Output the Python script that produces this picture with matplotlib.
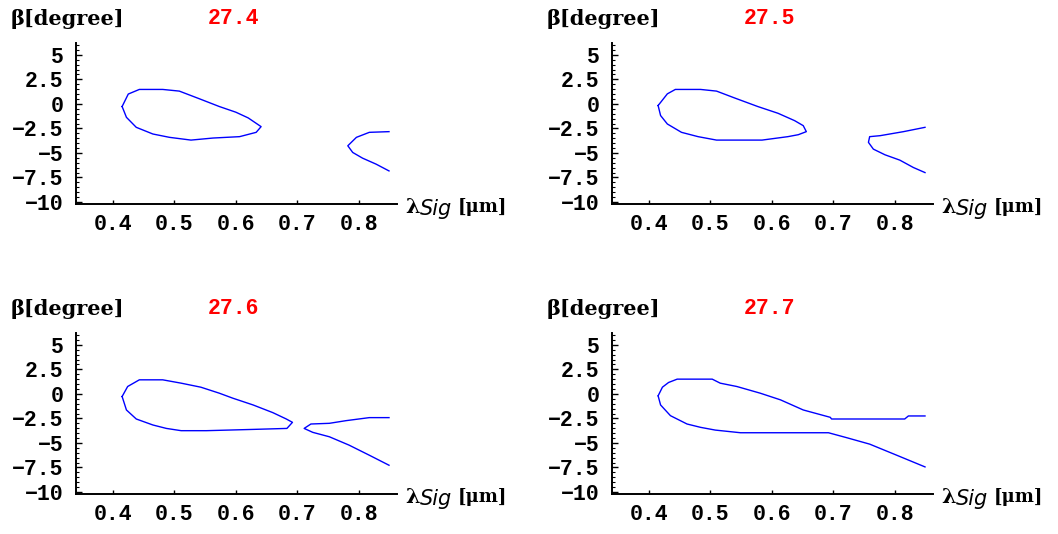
import matplotlib
matplotlib.use("Agg")
import matplotlib.pyplot as plt
import matplotlib.transforms as mtransforms
from matplotlib.ticker import MultipleLocator

# phase-matching curves, beta [deg] vs signal wavelength [um]
titles = ["27.4", "27.5", "27.6", "27.7"]

# 27.4 : closed loop + separate branch
loop1_x = [0.415, 0.422, 0.438, 0.465, 0.492, 0.527, 0.563, 0.606, 0.633, 0.641,
           0.620, 0.600, 0.573, 0.541, 0.508, 0.481, 0.443, 0.425, 0.415]
loop1_y = [-0.27, -1.37, -2.39, -3.07, -3.41, -3.69, -3.48, -3.34, -2.90, -2.32,
           -1.43, -0.85, -0.27, 0.51, 1.30, 1.47, 1.47, 1.00, -0.27]
branch1_x = [0.849, 0.817, 0.796, 0.782, 0.790, 0.806, 0.828, 0.849]
branch1_y = [-2.83, -2.90, -3.41, -4.27, -4.95, -5.53, -6.14, -6.83]

# 27.5
loop2_x = [0.415, 0.419, 0.430, 0.453, 0.480, 0.510, 0.584, 0.626, 0.643, 0.656,
           0.651, 0.637, 0.610, 0.577, 0.539, 0.510, 0.484, 0.443, 0.430, 0.415]
loop2_y = [-0.17, -1.19, -2.05, -2.90, -3.34, -3.69, -3.69, -3.34, -3.14, -2.83,
           -2.22, -1.71, -0.96, -0.27, 0.61, 1.30, 1.47, 1.47, 1.02, -0.17]
branch2_x = [0.849, 0.814, 0.776, 0.759, 0.757, 0.765, 0.784, 0.808, 0.830, 0.849]
branch2_y = [-2.39, -2.83, -3.24, -3.34, -3.92, -4.61, -5.19, -5.73, -6.48, -7.00]

# 27.6
loop3_x = [0.415, 0.422, 0.438, 0.465, 0.487, 0.511, 0.552, 0.628, 0.683, 0.692,
           0.682, 0.660, 0.628, 0.595, 0.573, 0.543, 0.511, 0.481, 0.443, 0.424, 0.415]
loop3_y = [-0.27, -1.64, -2.56, -3.17, -3.52, -3.75, -3.75, -3.62, -3.52, -2.90,
           -2.56, -1.91, -1.13, -0.44, 0.07, 0.68, 1.09, 1.43, 1.43, 0.75, -0.27]
branch3_x = [0.849, 0.817, 0.779, 0.752, 0.722, 0.711, 0.725, 0.752, 0.784, 0.817, 0.849]
branch3_y = [-2.42, -2.42, -2.73, -3.00, -3.07, -3.52, -3.92, -4.37, -5.22, -6.25, -7.27]

# 27.7 : loop opened into two curves
upper4_x = [0.415, 0.422, 0.432, 0.446, 0.503, 0.516, 0.543, 0.581, 0.614, 0.651,
            0.695, 0.697, 0.816, 0.822, 0.849]
upper4_y = [-0.20, 0.68, 1.16, 1.50, 1.50, 1.09, 0.75, 0.07, -0.61, -1.64,
            -2.39, -2.56, -2.56, -2.25, -2.25]
lower4_x = [0.415, 0.419, 0.435, 0.462, 0.484, 0.508, 0.549, 0.692, 0.722, 0.759, 0.803, 0.849]
lower4_y = [-0.20, -1.13, -2.22, -3.07, -3.41, -3.69, -3.96, -3.96, -4.47, -5.12, -6.25, -7.44]

curves = [
    [(loop1_x, loop1_y), (branch1_x, branch1_y)],
    [(loop2_x, loop2_y), (branch2_x, branch2_y)],
    [(loop3_x, loop3_y), (branch3_x, branch3_y)],
    [(upper4_x, upper4_y), (lower4_x, lower4_y)],
]

xticks = [0.4, 0.5, 0.6, 0.7, 0.8]
yticks = [-10, -7.5, -5, -2.5, 0, 2.5, 5]
yticklabels = ["\u221210", "\u22127.5", "\u22125", "\u22122.5", "0", "2.5", "5"]

W, H = 1058, 534
fig = plt.figure(figsize=(W / 100, H / 100), dpi=100)
fig.patch.set_facecolor("white")

mono = dict(family=["Liberation Mono", "DejaVu Sans Mono"], weight="bold", size=15.5)
serif = dict(family="DejaVu Serif", weight="bold", size=15)

# axes boxes in pixels: left, x-axis row, width, height
ax_w, ax_h = 321, 161
origins = [(76, 204), (612, 204), (76, 494), (612, 494)]

for i, (ox, oy) in enumerate(origins):
    ax = fig.add_axes([ox / W, (H - oy) / H, ax_w / W, ax_h / H])
    ax.set_facecolor("none")
    for xs, ys in curves[i]:
        ax.plot(xs, ys, color="#0000ff", lw=1.0)
    ax.set_xlim(0.34, 0.862)
    ax.set_ylim(-10.2, 6.2)
    for s in ["top", "right"]:
        ax.spines[s].set_visible(False)
    for s in ["left", "bottom"]:
        ax.spines[s].set_linewidth(1.4)
    ax.set_xticks(xticks)
    ax.set_xticklabels([f"{v:.1f}" for v in xticks], fontdict=mono)
    ax.set_yticks(yticks)
    ax.set_yticklabels(yticklabels, fontdict=mono)
    ax.yaxis.set_minor_locator(MultipleLocator(0.5))
    ax.tick_params(axis="x", direction="in", length=3, width=1.0, pad=7)
    ax.tick_params(axis="y", which="major", direction="in", length=4, width=1.0, pad=9)
    ax.tick_params(axis="y", which="minor", direction="in", length=2, width=0.8)

    ax.text(0.49, 1.15, titles[i], transform=ax.transAxes, color="#ff0000",
            ha="center", va="center", **mono)
    ax.text(-0.205, 1.15, "β[degree]", transform=ax.transAxes,
            ha="left", va="center", **serif)

    # x-axis label: bold lambda, italic "Sig", bold [um]
    base = ax.transAxes
    t1 = mtransforms.offset_copy(base, fig=fig, x=8, y=-3, units="dots")
    ax.text(1.0, 0.0, "λ", transform=t1, ha="left", va="center", **serif)
    t2 = mtransforms.offset_copy(base, fig=fig, x=23, y=-5, units="dots")
    ax.text(1.0, 0.0, "Sig", transform=t2, ha="left", va="center",
            family="DejaVu Sans", style="oblique", size=15)
    t3 = mtransforms.offset_copy(base, fig=fig, x=61, y=-3, units="dots")
    ax.text(1.0, 0.0, "[μm]", transform=t3, ha="left", va="center",
            family="DejaVu Serif", weight="bold", size=13)

fig.savefig("out.png", dpi=100, facecolor="white")
